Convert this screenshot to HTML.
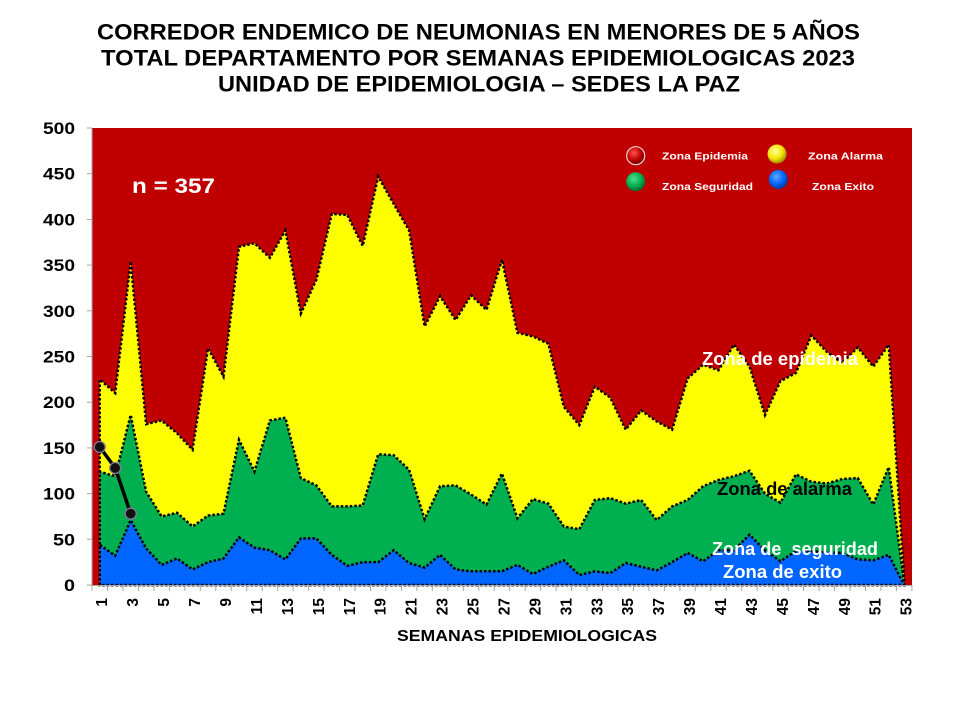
<!DOCTYPE html>
<html><head><meta charset="utf-8"><style>
html,body{margin:0;padding:0;background:#fff;}
svg{display:block;}
text{font-family:"Liberation Sans",Arial,sans-serif;font-weight:bold;}
</style></head><body>
<svg width="960" height="720" viewBox="0 0 960 720" xmlns="http://www.w3.org/2000/svg">
<defs>
<radialGradient id="gr" cx="40%" cy="35%" r="65%"><stop offset="0" stop-color="#ff5050"/><stop offset="0.6" stop-color="#c00000"/><stop offset="1" stop-color="#700000"/></radialGradient>
<radialGradient id="gy" cx="40%" cy="35%" r="65%"><stop offset="0" stop-color="#ffffa0"/><stop offset="0.6" stop-color="#f5e600"/><stop offset="1" stop-color="#a09000"/></radialGradient>
<radialGradient id="gg" cx="40%" cy="35%" r="65%"><stop offset="0" stop-color="#50e090"/><stop offset="0.6" stop-color="#00b050"/><stop offset="1" stop-color="#006a30"/></radialGradient>
<radialGradient id="gb" cx="40%" cy="35%" r="65%"><stop offset="0" stop-color="#60a8ff"/><stop offset="0.6" stop-color="#0066ff"/><stop offset="1" stop-color="#003a99"/></radialGradient>
</defs>
<rect width="960" height="720" fill="#fff"/>
<!-- Title -->
<text x="97" y="39.5" font-size="22.5" textLength="763" lengthAdjust="spacingAndGlyphs" fill="#000">CORREDOR ENDEMICO DE NEUMONIAS EN MENORES DE 5 AÑOS</text>
<text x="101" y="65.5" font-size="22.5" textLength="754" lengthAdjust="spacingAndGlyphs" fill="#000">TOTAL DEPARTAMENTO POR SEMANAS EPIDEMIOLOGICAS 2023</text>
<text x="218" y="91.5" font-size="22.5" textLength="522" lengthAdjust="spacingAndGlyphs" fill="#000">UNIDAD DE EPIDEMIOLOGIA – SEDES LA PAZ</text>

<!-- plot background -->
<rect x="92" y="128" width="820" height="457" fill="#c00000"/>

<g transform="translate(84.265,585) scale(15.47,-0.914)">
<polygon fill="#ffff00" stroke="#000" stroke-width="2.5" stroke-dasharray="2.5,2" vector-effect="non-scaling-stroke" points="1,0 1,225 2,210 3,354 4,176 5,180 6,166 7,148 8,259 9,228 10,370 11,374 12,358 13,388 14,297 15,334 16,406 17,405 18,371 19,447 20,417 21,388 22,283 23,316 24,290 25,317 26,301 27,356 28,276 29,272 30,264 31,195 32,175 33,217 34,205 35,170 36,191 37,179 38,170 39,226 40,241 41,235 42,263 43,239 44,186 45,223 46,232 47,273 48,255 49,243 50,260 51,239 52,263 53,6 53,0"/>
<polygon fill="#00b050" stroke="#000" stroke-width="2.5" stroke-dasharray="2.5,2" vector-effect="non-scaling-stroke" points="1,0 1,124 2,119 3,186 4,102 5,75 6,79 7,64 8,76 9,78 10,159 11,124 12,180 13,183 14,117 15,109 16,86 17,86 18,87 19,143 20,142 21,126 22,72 23,108 24,109 25,99 26,88 27,122 28,73 29,94 30,89 31,64 32,61 33,93 34,95 35,89 36,93 37,71 38,86 39,93 40,108 41,115 42,119 43,125 44,100 45,90 46,121 47,113 48,111 49,116 50,117 51,88 52,129 53,2 53,0"/>
<polygon fill="#0066ff" stroke="#000" stroke-width="2.5" stroke-dasharray="2.5,2" vector-effect="non-scaling-stroke" points="1,0 1,44 2,32 3,71 4,40 5,22 6,29 7,17 8,25 9,29 10,52 11,41 12,38 13,28 14,51 15,51 16,33 17,21 18,25 19,25 20,38 21,24 22,19 23,33 24,17 25,15 26,15 27,15 28,22 29,12 30,20 31,27 32,11 33,15 34,13 35,24 36,20 37,16 38,25 39,35 40,26 41,38 42,38 43,55 44,38 45,26 46,37 47,37 48,36 49,35 50,28 51,27 52,33 53,0"/>
</g>

<!-- axes -->
<g stroke="#a6a6a6" stroke-width="1">
<line x1="92" y1="128" x2="92" y2="585"/>
<line x1="92" y1="585.5" x2="912" y2="585.5"/>
<line x1="87" y1="128" x2="92" y2="128"/>
<line x1="87" y1="173.7" x2="92" y2="173.7"/>
<line x1="87" y1="219.4" x2="92" y2="219.4"/>
<line x1="87" y1="265.1" x2="92" y2="265.1"/>
<line x1="87" y1="310.8" x2="92" y2="310.8"/>
<line x1="87" y1="356.5" x2="92" y2="356.5"/>
<line x1="87" y1="402.2" x2="92" y2="402.2"/>
<line x1="87" y1="447.9" x2="92" y2="447.9"/>
<line x1="87" y1="493.6" x2="92" y2="493.6"/>
<line x1="87" y1="539.3" x2="92" y2="539.3"/>
<line x1="87" y1="585" x2="92" y2="585"/>
</g>
<g stroke="#a6a6a6" stroke-width="1">
<path d="M92,585v6M107.5,585v6M123,585v6M138.4,585v6M153.9,585v6M169.4,585v6M184.8,585v6M200.3,585v6M215.8,585v6M231.2,585v6M246.7,585v6M262.2,585v6M277.6,585v6M293.1,585v6M308.6,585v6M324,585v6M339.5,585v6M355,585v6M370.5,585v6M385.9,585v6M401.4,585v6M416.9,585v6M432.3,585v6M447.8,585v6M463.3,585v6M478.8,585v6M494.2,585v6M509.7,585v6M525.2,585v6M540.6,585v6M556.1,585v6M571.6,585v6M587,585v6M602.5,585v6M618,585v6M633.5,585v6M648.9,585v6M664.4,585v6M679.9,585v6M695.3,585v6M710.8,585v6M726.3,585v6M741.7,585v6M757.2,585v6M772.7,585v6M788.2,585v6M803.6,585v6M819.1,585v6M834.6,585v6M850,585v6M865.5,585v6M881,585v6M896.4,585v6M911.9,585v6"/>
</g>

<!-- y labels -->
<g font-size="17" fill="#000" text-anchor="end">
<text x="75" y="134" textLength="32" lengthAdjust="spacingAndGlyphs">500</text>
<text x="75" y="179.7" textLength="32" lengthAdjust="spacingAndGlyphs">450</text>
<text x="75" y="225.4" textLength="32" lengthAdjust="spacingAndGlyphs">400</text>
<text x="75" y="271.1" textLength="32" lengthAdjust="spacingAndGlyphs">350</text>
<text x="75" y="316.8" textLength="32" lengthAdjust="spacingAndGlyphs">300</text>
<text x="75" y="362.5" textLength="32" lengthAdjust="spacingAndGlyphs">250</text>
<text x="75" y="408.2" textLength="32" lengthAdjust="spacingAndGlyphs">200</text>
<text x="75" y="453.9" textLength="32" lengthAdjust="spacingAndGlyphs">150</text>
<text x="75" y="499.6" textLength="32" lengthAdjust="spacingAndGlyphs">100</text>
<text x="75" y="545.3" textLength="22" lengthAdjust="spacingAndGlyphs">50</text>
<text x="75" y="591" textLength="11" lengthAdjust="spacingAndGlyphs">0</text>
</g>

<!-- x labels -->
<g font-size="15.5" fill="#000" text-anchor="end">
<text transform="translate(107.2,598) rotate(-90)">1</text>
<text transform="translate(138.2,598) rotate(-90)">3</text>
<text transform="translate(169.1,598) rotate(-90)">5</text>
<text transform="translate(200.1,598) rotate(-90)">7</text>
<text transform="translate(231,598) rotate(-90)">9</text>
<text transform="translate(261.9,598) rotate(-90)">11</text>
<text transform="translate(292.9,598) rotate(-90)">13</text>
<text transform="translate(323.8,598) rotate(-90)">15</text>
<text transform="translate(354.8,598) rotate(-90)">17</text>
<text transform="translate(385.7,598) rotate(-90)">19</text>
<text transform="translate(416.6,598) rotate(-90)">21</text>
<text transform="translate(447.6,598) rotate(-90)">23</text>
<text transform="translate(478.5,598) rotate(-90)">25</text>
<text transform="translate(509.5,598) rotate(-90)">27</text>
<text transform="translate(540.4,598) rotate(-90)">29</text>
<text transform="translate(571.3,598) rotate(-90)">31</text>
<text transform="translate(602.3,598) rotate(-90)">33</text>
<text transform="translate(633.2,598) rotate(-90)">35</text>
<text transform="translate(664.2,598) rotate(-90)">37</text>
<text transform="translate(695.1,598) rotate(-90)">39</text>
<text transform="translate(726,598) rotate(-90)">41</text>
<text transform="translate(757,598) rotate(-90)">43</text>
<text transform="translate(787.9,598) rotate(-90)">45</text>
<text transform="translate(818.9,598) rotate(-90)">47</text>
<text transform="translate(849.8,598) rotate(-90)">49</text>
<text transform="translate(880.7,598) rotate(-90)">51</text>
<text transform="translate(911.7,598) rotate(-90)">53</text>
</g>
<text x="397" y="641" font-size="16" textLength="260" lengthAdjust="spacingAndGlyphs" fill="#000">SEMANAS EPIDEMIOLOGICAS</text>

<!-- current year line -->
<polyline points="99.7,447 115.2,468 130.7,513.7" fill="none" stroke="#000" stroke-width="3.5"/>
<g fill="#111" stroke="#8878a0" stroke-width="1.3">
<circle cx="99.7" cy="447" r="5.5"/>
<circle cx="115.2" cy="468" r="5.5"/>
<circle cx="130.7" cy="513.7" r="5.5"/>
</g>

<!-- n -->
<text x="132" y="193" font-size="21" textLength="83" lengthAdjust="spacingAndGlyphs" fill="#fff">n = 357</text>

<!-- legend -->
<circle cx="635.7" cy="155.7" r="9" fill="url(#gr)" stroke="#f0d0d0" stroke-width="1.2"/>
<circle cx="777" cy="154" r="9.5" fill="url(#gy)"/>
<circle cx="635.7" cy="181.7" r="9.5" fill="url(#gg)"/>
<circle cx="778.3" cy="179.5" r="9.5" fill="url(#gb)"/>
<g font-size="10.5" fill="#fff">
<text x="662" y="159.5" textLength="86" lengthAdjust="spacingAndGlyphs">Zona Epidemia</text>
<text x="808" y="159.5" textLength="75" lengthAdjust="spacingAndGlyphs">Zona Alarma</text>
<text x="662" y="190" textLength="91" lengthAdjust="spacingAndGlyphs">Zona Seguridad</text>
<text x="812" y="190" textLength="62" lengthAdjust="spacingAndGlyphs">Zona Exito</text>
</g>

<!-- annotations -->
<g font-size="18">
<text x="702" y="365" textLength="156" lengthAdjust="spacingAndGlyphs" fill="#fff">Zona de epidemia</text>
<text x="717" y="495" textLength="135" lengthAdjust="spacingAndGlyphs" fill="#000">Zona de alarma</text>
<text x="712" y="555" textLength="166" lengthAdjust="spacingAndGlyphs" fill="#fff" xml:space="preserve">Zona de  seguridad</text>
<text x="723" y="578" textLength="119" lengthAdjust="spacingAndGlyphs" fill="#fff">Zona de exito</text>
</g>
</svg>
</body></html>
